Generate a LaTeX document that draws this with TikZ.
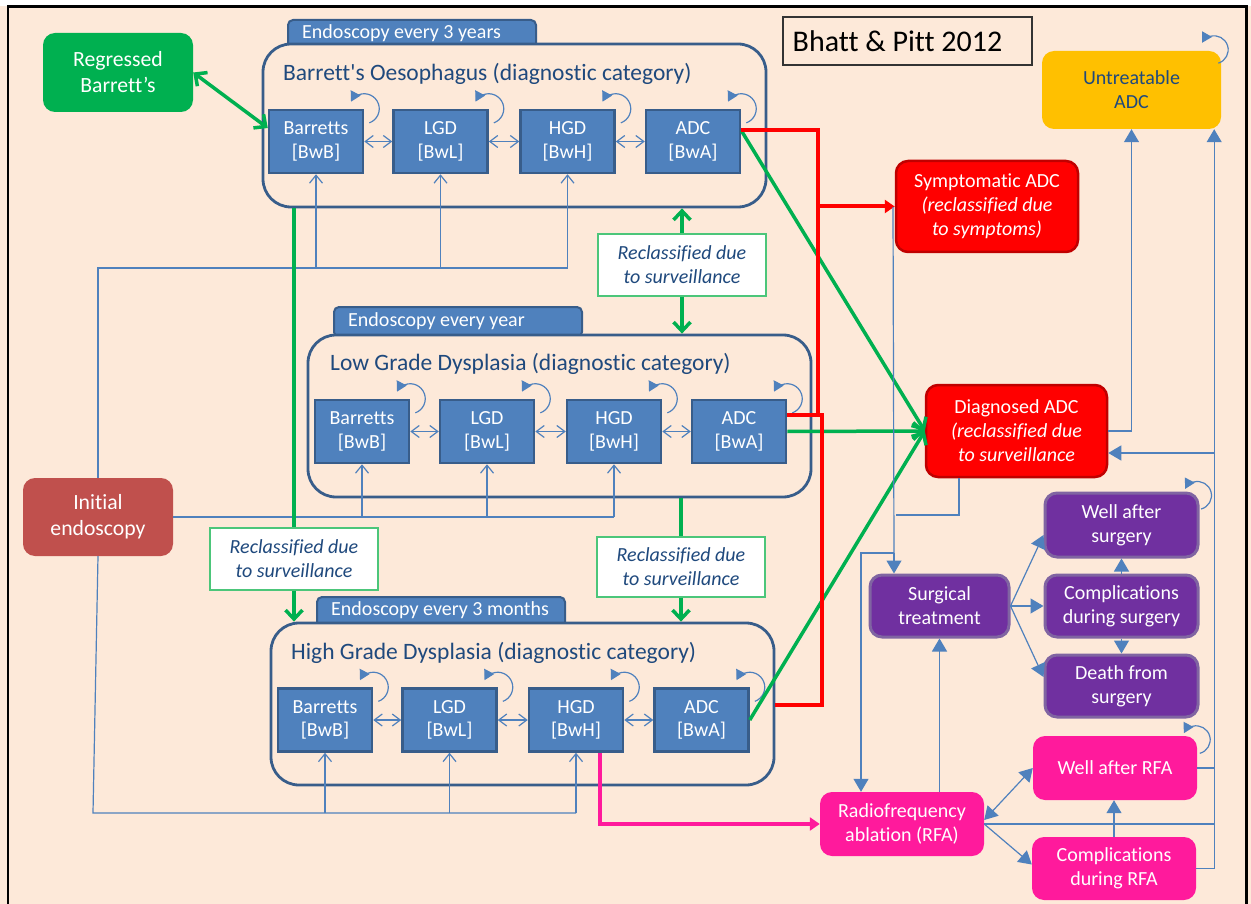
\documentclass[tikz,border=0pt]{standalone}
\usepackage{fontspec}
\setmainfont{Carlito}[Ligatures={TeX,NoCommon}]
\usetikzlibrary{arrows.meta}
\definecolor{peach}{HTML}{FDE9D9}
\definecolor{boxblue}{HTML}{4F81BD}
\definecolor{boxborder}{HTML}{385D8A}
\definecolor{navy}{HTML}{1F497D}
\definecolor{ggreen}{HTML}{00B050}
\definecolor{lgreen}{HTML}{4CC67A}
\definecolor{rred}{HTML}{FF0000}
\definecolor{dred}{HTML}{C00000}
\definecolor{ppink}{HTML}{FF1A9C}
\definecolor{purp}{HTML}{7030A0}
\definecolor{purpb}{HTML}{8064A2}
\definecolor{yel}{HTML}{FFC000}
\definecolor{brick}{HTML}{C0504D}
\begin{document}
\begin{tikzpicture}[x=1pt,y=1pt,
  inner/.style={draw=boxborder, line width=2.5pt, fill=boxblue, minimum width=94pt, minimum height=63pt, text=white, font=\fontsize{20}{23.5}\selectfont, align=center, inner sep=0pt},
  cont/.style={draw=boxborder, line width=2.8pt, fill=peach, rounded corners=28pt, minimum width=503pt, minimum height=162pt, inner sep=0pt},
  tabbox/.style={draw=boxborder, line width=2pt, fill=boxblue, rounded corners=5pt, minimum width=248pt, minimum height=30pt, inner sep=0pt},
  tabtext/.style={text=white, font=\fontsize{20}{22}\selectfont, anchor=west, inner sep=0pt},
  ttl/.style={text=navy, font=\fontsize{23.5}{26}\selectfont, anchor=west, inner sep=0pt},
  bigbox/.style={rounded corners=12pt, text=white, align=center, inner sep=0pt, font=\fontsize{21.7}{26}\selectfont},
  lab/.style={draw=lgreen, line width=1.3pt, fill=white, text=navy, align=center, inner sep=0pt, font=\fontsize{20}{24}\itshape\selectfont, minimum width=168pt, minimum height=62pt},
  rbox/.style={rounded corners=12pt, align=center, inner sep=0pt, text=white, font=\fontsize{20}{24}\selectfont},
  bline/.style={draw=boxblue, line width=1.2pt},
  bup/.style={draw=boxblue, line width=1.2pt, -{Straight Barb[length=8pt,width=13pt]}},
  bdouble/.style={draw=boxblue, line width=1.2pt, {Straight Barb[length=8pt,width=12pt]}-{Straight Barb[length=8pt,width=12pt]}},
  barrowF/.style={draw=boxblue, line width=1.2pt, -{Triangle[length=13pt,width=15pt]}},
  bdoubleF/.style={draw=boxblue, line width=1.2pt, {Triangle[length=13pt,width=15pt]}-{Triangle[length=13pt,width=15pt]}},
  loopar/.style={draw=boxblue, line width=1.2pt, -{Triangle[length=10pt,width=11pt]}},
  gline/.style={draw=ggreen, line width=3.5pt},
  garrow/.style={draw=ggreen, line width=3.5pt, -{Straight Barb[length=9pt,width=17pt]}},
  gdouble/.style={draw=ggreen, line width=3.5pt, {Straight Barb[length=9pt,width=17pt]}-{Straight Barb[length=9pt,width=17pt]}},
  rline/.style={draw=rred, line width=4pt},
  parrow/.style={draw=ppink, line width=3.5pt, -{Triangle[length=10pt,width=13pt]}}
]
\useasboundingbox (0,0) rectangle (1251,-904);
\fill[peach] (0,-6) rectangle (1251,-904);
\fill[white] (0,0) rectangle (1251,-6);
\draw[black, line width=2.2pt] (8,-904) -- (8,-6.5) -- (1246.5,-6.5) -- (1246.5,-904);

% title box
\node[draw=black!80, line width=1.3pt, minimum width=249pt, minimum height=48pt, inner sep=0pt, font=\fontsize{30}{34}\selectfont] (bhatt) at (907.5,-41) {\kern-20pt Bhatt \& Pitt 2012};

% tabs
\node[tabbox] (tab1) at (412,-35) {};
\node[tabbox] (tab2) at (458,-322) {};
\node[tabbox] (tab3) at (441,-612) {};
% containers
\node[cont, minimum height=163pt] (c1) at (514.5,-125.5) {};
\node[cont] (c2) at (559.5,-416) {};
\node[cont] (c3) at (522.5,-704) {};
\node[tabtext] (tt1) at (302,-33) {Endoscopy every 3 years};
\node[tabtext] (tt2) at (348,-321) {Endoscopy every year};
\node[tabtext] (tt3) at (331,-610) {Endoscopy every 3 months};
\node[ttl] (t1) at (283,-74) {Barrett\textquotesingle s Oesophagus (diagnostic category)};
\node[ttl] (t2) at (330,-364) {Low Grade Dysplasia (diagnostic category)};
\node[ttl] (t3) at (291,-653) {High Grade Dysplasia (diagnostic category)};

% inner boxes
\node[inner] (b11) at (316,-141.5) {Barretts\\{[BwB]}};
\node[inner] (b12) at (440.5,-141.5) {LGD\\{[BwL]}};
\node[inner] (b13) at (567.5,-141.5) {HGD\\{[BwH]}};
\node[inner] (b14) at (693,-141.5) {ADC\\{[BwA]}};
\node[inner] (b21) at (362,-431.5) {Barretts\\{[BwB]}};
\node[inner] (b22) at (487,-431.5) {LGD\\{[BwL]}};
\node[inner] (b23) at (614,-431.5) {HGD\\{[BwH]}};
\node[inner] (b24) at (739,-431.5) {ADC\\{[BwA]}};
\node[inner] (b31) at (325,-720) {Barretts\\{[BwB]}};
\node[inner] (b32) at (449.5,-720) {LGD\\{[BwL]}};
\node[inner] (b33) at (576,-720) {HGD\\{[BwH]}};
\node[inner] (b34) at (701.5,-720) {ADC\\{[BwA]}};

\foreach \a/\b in {b11/b12,b12/b13,b13/b14,b21/b22,b22/b23,b23/b24,b31/b32,b32/b33,b33/b34}
  \draw[bdouble] (\a.east) -- (\b.west);
\foreach \n in {b11,b12,b13,b14,b21,b22,b23,b24,b31,b32,b33,b34}
  \draw[loopar] ([shift={(-70:15)}]\n.north east) arc[start angle=-70,end angle=152,radius=15];

% other boxes
\node[bigbox, fill=ggreen, minimum width=150pt, minimum height=79pt] (reg) at (118,-72.5) {Regressed\\Barrett’s};
\node[bigbox, fill=brick, minimum width=150pt, minimum height=78pt] (init) at (98,-517) {Initial\\endoscopy};
\node[lab] (lab1) at (294,-559) {Reclassified due\\to surveillance};
\node[lab] (lab2) at (682,-265) {Reclassified due\\to surveillance};
\node[lab, minimum height=60pt] (lab3) at (681,-567) {Reclassified due\\to surveillance};

\node[rbox, fill=yel, text=navy, minimum width=179pt, minimum height=78pt] (untreat) at (1131.5,-90) {Untreatable\\ADC};
\node[rbox, fill=rred, draw=dred, line width=2.5pt, minimum width=182pt, minimum height=91pt] (sympt) at (987,-206.5) {Symptomatic ADC\\\textit{(reclassified due}\\\textit{to symptoms)}};
\node[rbox, fill=rred, draw=dred, line width=2.5pt, minimum width=181pt, minimum height=92pt] (diag) at (1016.5,-431) {Diagnosed ADC\\\textit{(reclassified due}\\\textit{to surveillance}};
\node[rbox, fill=purp, draw=purpb, line width=3pt, minimum width=139pt, minimum height=62pt] (surg) at (939.5,-606) {Surgical\\treatment};
\node[rbox, fill=purp, draw=purpb, line width=3pt, minimum width=153pt, minimum height=64pt] (wellS) at (1121.5,-525) {Well after\\surgery};
\node[rbox, fill=purp, draw=purpb, line width=3pt, minimum width=153pt, minimum height=62pt] (compS) at (1121.5,-606) {Complications\\during surgery};
\node[rbox, fill=purp, draw=purpb, line width=3pt, minimum width=153pt, minimum height=62pt] (death) at (1121.5,-686) {Death from\\surgery};
\node[rbox, fill=ppink, minimum width=164pt, minimum height=64pt] (rfa) at (902,-824) {Radiofrequency\\ablation (RFA)};
\node[rbox, fill=ppink, minimum width=164pt, minimum height=64pt] (wellR) at (1115,-768) {Well after RFA};
\node[rbox, fill=ppink, minimum width=164pt, minimum height=63pt] (compR) at (1114,-868.5) {Complications\\during RFA};

\draw[loopar] ([shift={(-7,1)}]untreat.north east) ++(-73:14) arc[start angle=-73,end angle=150,radius=14];
\draw[loopar] ([shift={(-2,-4)}]wellS.north east) ++(-75:14) arc[start angle=-75,end angle=152,radius=14];
\draw[loopar] ([shift={(-1,-4)}]wellR.north east) ++(-75:14) arc[start angle=-75,end angle=152,radius=14];

% thin blue input lines
\coordinate (h1) at (98,-268);
\coordinate (h3) at (93,-813);
\draw[bline] (init.north) -- (h1) -- (h1 -| b13.south);
\foreach \n in {b11,b12,b13} \draw[bup] (h1 -| \n.south) -- (\n.south);
\draw[bline] (init.east) -- (init.east -| b23.south);
\foreach \n in {b21,b22,b23} \draw[bup] (init.east -| \n.south) -- (\n.south);
\draw[bline] (init.south) -- (h3) -- (h3 -| b33.south);
\foreach \n in {b31,b32,b33} \draw[bup] (h3 -| \n.south) -- (\n.south);

% green
\draw[gdouble] (reg.east) -- ([yshift=13.5]b11.west);
\draw[gline] (lab1.north |- c1.south) -- (lab1.north);
\draw[garrow] (lab1.south) -- (lab1.south |- c3.north);
\draw[garrow] (lab2.north) -- (lab2.north |- c1.south);
\draw[garrow] (lab2.south) -- (lab2.south |- c2.north);
\draw[gline] (lab3.north |- c2.south) -- (lab3.north);
\draw[garrow] (lab3.south) -- (lab3.south |- c3.north);
\draw[garrow] ([yshift=11]b14.east) -- (diag.west);
\draw[garrow] (b24.east) -- (diag.west);
\draw[garrow] (b34.east) -- (diag.west);

% red
\coordinate (ra) at (818,-130.5);
\coordinate (rb) at (818,-206.5);
\coordinate (rc) at (818,-415);
\coordinate (rd) at (822,-415);
\coordinate (re) at (822,-705);
\draw[rline] ([yshift=11]b14.east) -- (ra) -- (rb) -- (rc);
\draw[rline, -{Triangle[length=10pt,width=13pt]}] (rb) -- (sympt.west);
\draw[rline] ([yshift=16.5]b24.east) -- (rd) -- (re) -- (re -| c3.east);

% pink
\draw[parrow] ([xshift=24]b33.south) |- (rfa.west);

% right side
\coordinate (sv) at (893,-207);
\coordinate (dj) at (896,-515);
\coordinate (sj) at (894,-553);
\draw[bline] (sv) -- (sj);
\draw[barrowF] (sj) -- (sj |- surg.north);
\draw[bline] ([xshift=-57.5]diag.south) |- (dj);
\draw[barrowF] (sj) -| ([xshift=-41]rfa.north);
\draw[barrowF] (surg.south |- rfa.north) -- (surg.south);
\draw[barrowF] (surg.east) -- ([yshift=-10]wellS.west);
\draw[barrowF] (surg.east) -- (compS.west);
\draw[barrowF] (surg.east) -- ([yshift=9]death.west);
\draw[barrowF] (compS.north) -- (wellS.south);
\draw[barrowF] (compS.south) -- (death.north);
\draw[bdoubleF] ([yshift=4]rfa.east) -- (wellR.west);
\draw[barrowF] (rfa.east) -- ([yshift=4]compR.west);
\draw[barrowF] (compR.north) -- (compR.north |- wellR.south);
\coordinate (tk) at ([xshift=-7]untreat.south east);
\coordinate (d2) at ([yshift=-22]diag.east);
\draw[bline] (wellR.east) -- (wellR.east -| tk);
\draw[bline] (rfa.east) -- (rfa.east -| tk);
\draw[bline] (compR.east) -- (compR.east -| tk);
\draw[barrowF] (compR.east -| tk) -- (tk);
\draw[barrowF] (tk |- d2) -- (d2);
\draw[barrowF] (diag.east) -| (untreat.south);
\end{tikzpicture}
\end{document}
